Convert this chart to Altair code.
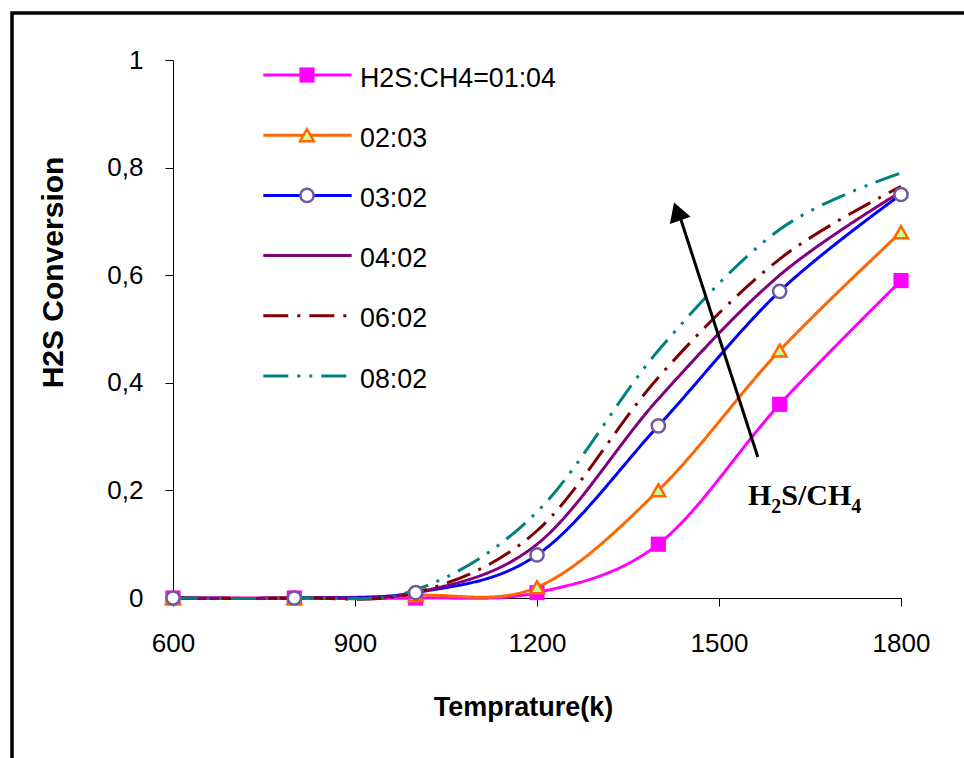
import altair as alt
import pandas as pd

# ---------------- data ----------------
temps = [600, 800, 1000, 1200, 1400, 1600, 1800]
series_names = ["H2S:CH4=01:04", "02:03", "03:02", "04:02", "06:02", "08:02"]
conv_0104 = [0, 0, 0, 0.01, 0.10, 0.36, 0.59]
conv_0203 = [0, 0, 0.005, 0.02, 0.20, 0.46, 0.68]
conv_0302 = [0, 0, 0.01, 0.08, 0.32, 0.57, 0.75]
conv_0402 = [0, 0, 0.01, 0.10, 0.37, 0.60, 0.755]
conv_0602 = [0, 0, 0.01, 0.125, 0.41, 0.63, 0.765]
conv_0802 = [0, 0, 0.015, 0.16, 0.46, 0.685, 0.79]
all_series = [conv_0104, conv_0203, conv_0302, conv_0402, conv_0602, conv_0802]

x_ticks = [600, 900, 1200, 1500, 1800]
y_ticks = [0, 0.2, 0.4, 0.6, 0.8, 1.0]

# annotation arrow (data coordinates) and label anchor
arrow_x = [1564, 1437]
arrow_y = [0.262, 0.704]
arrow_head_x = [1431]
arrow_head_y = [0.7185]
label_x = [1547.8]
label_y = [0.1727]

# ---------------- styles ----------------
line_colors = ["#FF00FF", "#FF6600", "#0000FF", "#800080", "#800000", "#008080"]
dashes = [[1, 0], [1, 0], [1, 0], [1, 0], [25, 9, 3, 9], [25, 9, 3, 9, 3, 9]]
SANS = "Liberation Sans"
SERIF = "Liberation Serif"

X = alt.X(
    "T:Q",
    scale=alt.Scale(domain=[600, 1800], nice=False, zero=False),
    axis=alt.Axis(
        values=x_ticks, format="d", title="Temprature(k)", grid=False,
        domainColor="black", tickColor="black", tickSize=8,
        labelFont=SANS, labelFontSize=26, labelColor="black", labelPadding=24,
        labelFlush=False, labelOverlap=False,
        titleFont=SANS, titleFontSize=27, titleFontWeight="bold", titleColor="black",
        titleX=350, titleY=117, titleBaseline="alphabetic", titleAlign="center",
    ),
)
Y = alt.Y(
    "v:Q",
    scale=alt.Scale(domain=[0, 1], nice=False),
    axis=alt.Axis(
        values=y_ticks, format="~g", labelExpr="replace(datum.label, '.', ',')",
        title="H2S Conversion", grid=False,
        domainColor="black", tickColor="black", tickSize=8,
        labelFont=SANS, labelFontSize=26, labelColor="black", labelPadding=22,
        titleFont=SANS, titleFontSize=30, titleFontWeight="bold", titleColor="black",
        titleX=-111, titleY=212, titleBaseline="alphabetic", titleAlign="center",
        titleAngle=270,
    ),
)

layers = []
one = pd.DataFrame({"a": [0]})

# outer frame
layers.append(
    alt.Chart(one).mark_rect(fill="transparent", stroke="black", strokeWidth=3.5).encode(
        x=alt.value(-161), x2=alt.value(820), y=alt.value(-47), y2=alt.value(720)
    )
)

dfs = []
for name, vals in zip(series_names, all_series):
    dfs.append(pd.DataFrame({"T": temps, "v": vals, "s": name}))

# lines
for i, df in enumerate(dfs):
    layers.append(
        alt.Chart(df).mark_line(
            interpolate="cardinal", color=line_colors[i], strokeWidth=3,
            strokeDash=dashes[i]
        ).encode(x=X, y=Y)
    )

# markers
marker_styles = [
    dict(shape="square", filled=True, fill="#FF00FF", stroke="#FF00FF", strokeWidth=0, size=230),
    dict(shape="triangle-up", filled=True, fill="#CCFF99", stroke="#FF6600", strokeWidth=2.5, size=190),
    dict(shape="circle", filled=True, fill="white", stroke="#6F5AA0", strokeWidth=2.5, size=175),
]
for i, st in enumerate(marker_styles):
    layers.append(alt.Chart(dfs[i]).mark_point(opacity=1, **st).encode(x=X, y=Y))

# arrow
arrow_df = pd.DataFrame({"T": arrow_x, "v": arrow_y})
layers.append(alt.Chart(arrow_df).mark_line(color="black", strokeWidth=3).encode(x=X, y=Y))
head_df = pd.DataFrame({"T": arrow_head_x, "v": arrow_head_y})
layers.append(
    alt.Chart(head_df).mark_point(
        shape="triangle-up", filled=True, fill="black", stroke="black", strokeWidth=0,
        size=480, angle=341, opacity=1
    ).encode(x=X, y=Y)
)

# H2S/CH4 label with subscripts
lab_df = pd.DataFrame({"T": label_x, "v": label_y})
label_parts = [("H", 0, 0, 30), ("2", 23.3, 8, 20), ("S/CH", 33.3, 0, 30), ("4", 103.3, 8, 20)]
for txt, dx, dy, fs in label_parts:
    layers.append(
        alt.Chart(lab_df).mark_text(
            text=txt, font=SERIF, fontSize=fs, fontWeight="bold", color="black",
            align="left", baseline="alphabetic", dx=dx, dy=dy
        ).encode(x=X, y=Y)
    )

# custom legend (layout in pixels)
leg_y0 = 15
leg_step = 60.2
leg_x1, leg_x2, leg_mx, leg_tx = 90.3, 178.7, 134, 187
for i, name in enumerate(series_names):
    yy = leg_y0 + i * leg_step
    layers.append(
        alt.Chart(one).mark_rule(color=line_colors[i], strokeWidth=3, strokeDash=dashes[i]).encode(
            x=alt.value(leg_x1), x2=alt.value(leg_x2), y=alt.value(yy)
        )
    )
    if i < 3:
        layers.append(
            alt.Chart(one).mark_point(opacity=1, **marker_styles[i]).encode(
                x=alt.value(leg_mx), y=alt.value(yy)
            )
        )
    layers.append(
        alt.Chart(one).mark_text(
            text=name, font=SANS, fontSize=26.8, color="black", align="left",
            baseline="alphabetic"
        ).encode(x=alt.value(leg_tx), y=alt.value(yy + 11.5))
    )

chart = alt.layer(*layers).properties(
    width=728, height=538,
    padding={"left": 173, "top": 60, "right": 63, "bottom": 160},
    autosize="none",
    background="white",
).configure_view(stroke=None)

chart.save("out.html", embed_options={"renderer": "svg", "actions": False})
